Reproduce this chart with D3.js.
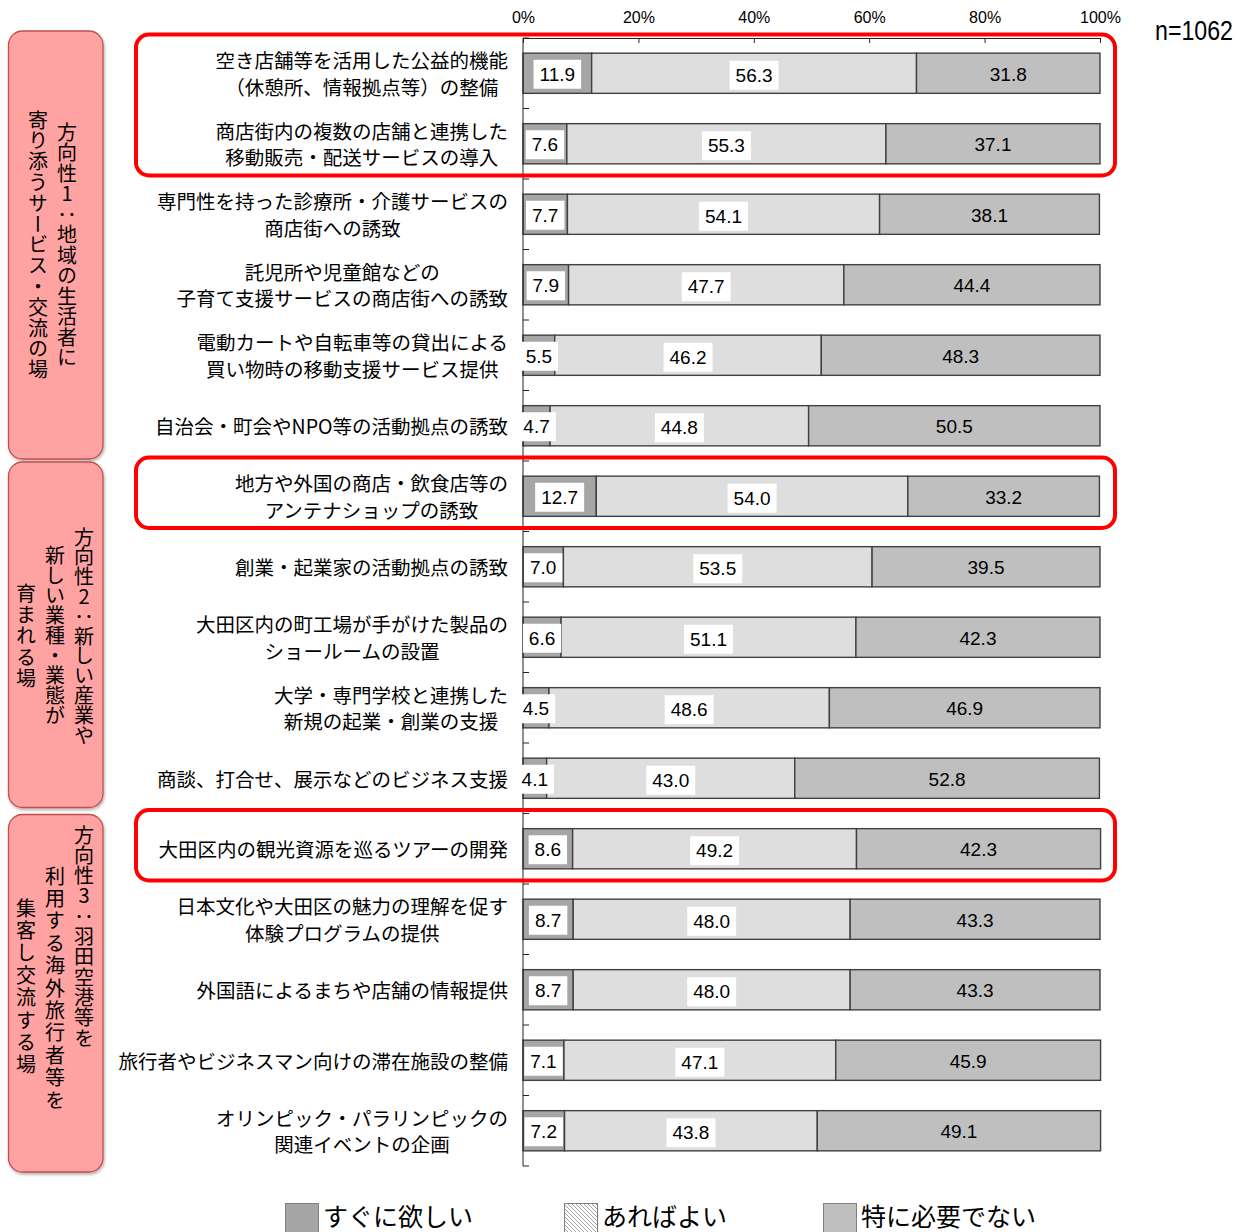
<!DOCTYPE html>
<html><head><meta charset="utf-8">
<script src="https://cdn.jsdelivr.net/npm/d3@7"></script>
<style>body{margin:0;background:#fff}svg{display:block}</style>
</head><body><svg id="c" width="1251" height="1232"></svg>
<script>
// ---------------- data ----------------
const categories = [
  "空き店舗等を活用した公益的機能\n（休憩所、情報拠点等）の整備",
  "商店街内の複数の店舗と連携した\n移動販売・配送サービスの導入",
  "専門性を持った診療所・介護サービスの\n商店街への誘致",
  "託児所や児童館などの\n子育て支援サービスの商店街への誘致",
  "電動カートや自転車等の貸出による\n買い物時の移動支援サービス提供",
  "自治会・町会やNPO等の活動拠点の誘致",
  "地方や外国の商店・飲食店等の\nアンテナショップの誘致",
  "創業・起業家の活動拠点の誘致",
  "大田区内の町工場が手がけた製品の\nショールームの設置",
  "大学・専門学校と連携した\n新規の起業・創業の支援",
  "商談、打合せ、展示などのビジネス支援",
  "大田区内の観光資源を巡るツアーの開発",
  "日本文化や大田区の魅力の理解を促す\n体験プログラムの提供",
  "外国語によるまちや店舗の情報提供",
  "旅行者やビジネスマン向けの滞在施設の整備",
  "オリンピック・パラリンピックの\n関連イベントの企画"
];
const soonValues = [11.9, 7.6, 7.7, 7.9, 5.5, 4.7, 12.7, 7.0, 6.6, 4.5, 4.1, 8.6, 8.7, 8.7, 7.1, 7.2];
const niceValues = [56.3, 55.3, 54.1, 47.7, 46.2, 44.8, 54.0, 53.5, 51.1, 48.6, 43.0, 49.2, 48.0, 48.0, 47.1, 43.8];
const notValues  = [31.8, 37.1, 38.1, 44.4, 48.3, 50.5, 33.2, 39.5, 42.3, 46.9, 52.8, 42.3, 43.3, 43.3, 45.9, 49.1];
const seriesNames = ["すぐに欲しい", "あればよい", "特に必要でない"];
const tickValues = [0, 20, 40, 60, 80, 100];
const groupLabels = [
  ["方向性1：地域の生活者に", "寄り添うサービス・交流の場"],
  ["方向性2：新しい産業や", "新しい業種・業態が", "育まれる場"],
  ["方向性3：羽田空港等を", "利用する海外旅行者等を", "集客し交流する場"]
];
const groupRows = [[0, 5], [6, 10], [11, 15]];
const highlightRows = [[0, 1], [6, 6], [11, 11]];
const sampleLabel = "n=1062";

// ---------------- layout / style ----------------
const JP = "'Noto Sans CJK JP','Noto Sans CJK SC',sans-serif";
const NUM = "'Liberation Sans',Arial,sans-serif";
const colors = ["#a6a6a6", "#dedede", "#bfbfbf"];
const groupTextLayout = [
  [{x: 67, y: 122, ls: 0.5}, {x: 38, y: 110, ls: 0.8}],
  [{x: 84, y: 527, ls: -0.2}, {x: 55, y: 545, ls: 0}, {x: 26, y: 583, ls: 1.4}],
  [{x: 84, y: 825, ls: 0.3}, {x: 55, y: 866, ls: 2.4}, {x: 26, y: 898, ls: 2.4}]
];

const svg = d3.select("#c");
const defs = svg.append("defs");
const pat = defs.append("pattern").attr("id", "hatch").attr("patternUnits", "userSpaceOnUse")
  .attr("width", 4).attr("height", 4);
pat.append("rect").attr("width", 4).attr("height", 4).attr("fill", "#fff");
pat.append("path").attr("d", "M-1,-1 L5,5 M-1,3 L1,5 M3,-1 L5,1").attr("stroke", "#8a8a8a").attr("stroke-width", 0.8);
const flt = defs.append("filter").attr("id", "sh").attr("x", "-20%").attr("y", "-5%").attr("width", "140%").attr("height", "110%");
flt.append("feDropShadow").attr("dx", 1).attr("dy", 2).attr("stdDeviation", 1.5).attr("flood-color", "#000").attr("flood-opacity", 0.3);

const x = d3.scaleLinear().domain([0, 100]).range([523, 1100]);
const y = d3.scaleBand().domain(d3.range(categories.length)).range([38, 1166])
  .paddingInner(0.43).paddingOuter(0.215);
const step = y.step(), bw = y.bandwidth();
const bandStart = i => y(i) - y.paddingInner() * step / 2;

// group boxes
groupRows.forEach((g, gi) => {
  let top = bandStart(g[0]) + 1, bot = bandStart(g[1]) + step - 2;
  if (gi === 0) top -= 8;
  if (gi === groupRows.length - 1) bot += 8;
  if (gi === 1) bot -= 4;
  svg.append("rect").attr("x", 8.5).attr("y", top).attr("width", 94.5).attr("height", bot - top)
    .attr("rx", 14).attr("fill", "#ffa2a2").attr("stroke", "#c0504d").attr("stroke-width", 1.3)
    .attr("filter", "url(#sh)");
  groupLabels[gi].forEach((t, li) => {
    const L = groupTextLayout[gi][li];
    svg.append("text").attr("x", L.x).attr("y", L.y)
      .style("writing-mode", "vertical-rl").style("text-orientation", "upright")
      .style("letter-spacing", L.ls + "px")
      .attr("font-family", JP).attr("font-size", 20).attr("fill", "#000").text(t);
  });
});

// stacked data
const table = categories.map((c, i) => ({i, s0: soonValues[i], s1: niceValues[i], s2: notValues[i]}));
const stacked = d3.stack().keys(["s0", "s1", "s2"])(table);

// bars
stacked.forEach((ser, si) => {
  svg.append("g").selectAll("rect").data(ser).join("rect")
    .attr("x", d => x(d[0])).attr("width", d => x(d[1]) - x(d[0]))
    .attr("y", d => y(d.data.i)).attr("height", bw)
    .attr("fill", colors[si]).attr("stroke", "#404040").attr("stroke-width", 1.4);
});

// axes
const gTop = svg.append("g").attr("transform", "translate(0,38)")
  .call(d3.axisTop(x).tickValues(tickValues).tickSize(-5).tickSizeOuter(0).tickFormat(d => d + "%"));
gTop.select(".domain").attr("stroke", "#222");
gTop.selectAll(".tick line").attr("stroke", "#222");
gTop.selectAll("text").attr("y", -15).attr("font-family", NUM).attr("font-size", 16).attr("fill", "#000");

svg.append("line").attr("x1", 523).attr("x2", 523).attr("y1", 38).attr("y2", 1166).attr("stroke", "#222");
svg.append("g").selectAll("line").data(d3.range(categories.length + 1)).join("line")
  .attr("x1", 523).attr("x2", 529)
  .attr("y1", i => i < categories.length ? bandStart(i) : bandStart(i - 1) + step)
  .attr("y2", i => i < categories.length ? bandStart(i) : bandStart(i - 1) + step)
  .attr("stroke", "#222");

// value labels
stacked.forEach((ser, si) => {
  ser.forEach(d => {
    const cx = (x(d[0]) + x(d[1])) / 2, cy = y(d.data.i) + bw / 2 + (si === 1 ? 2 : 1);
    const g = svg.append("g");
    const bg = g.append("rect");
    const t = g.append("text").attr("x", cx).attr("y", cy).attr("text-anchor", "middle")
      .attr("dominant-baseline", "central").attr("font-family", NUM).attr("font-size", 19)
      .attr("fill", "#000").text((d[1] - d[0]).toFixed(1));
    if (si < 2) {
      const w = t.node().getComputedTextLength() + 12;
      bg.attr("x", cx - w / 2).attr("y", cy - 14.5).attr("width", w).attr("height", 29).attr("fill", "#fff");
    } else bg.remove();
  });
});

// category labels
categories.forEach((c, i) => {
  const lines = c.split("\n");
  const cy = y(i) + bw / 2;
  const g = svg.append("g");
  const ts = lines.map((l, k) => g.append("text")
    .attr("y", lines.length === 1 ? cy : cy + (k === 0 ? -13.5 : 13))
    .attr("dominant-baseline", "central").attr("text-anchor", "middle")
    .attr("font-family", JP).attr("font-size", 19.5).attr("fill", "#000").text(l));
  const maxW = d3.max(ts, t => t.node().getComputedTextLength());
  ts.forEach(t => t.attr("x", 508 - maxW / 2));
});

// highlight boxes
highlightRows.forEach(h => {
  const top = bandStart(h[0]) - 3.5, bot = bandStart(h[1]) + step - 3.5;
  svg.append("rect").attr("x", 136).attr("y", top).attr("width", 979).attr("height", bot - top)
    .attr("rx", 13).attr("fill", "none").attr("stroke", "#ff0000").attr("stroke-width", 4);
});

// n label (narrow look)
svg.append("text").attr("x", 1155).attr("y", 31).attr("dominant-baseline", "central")
  .attr("font-family", NUM).attr("font-size", 27).attr("fill", "#000")
  .attr("textLength", 78).attr("lengthAdjust", "spacingAndGlyphs").text(sampleLabel);

// legend
const legX = [285, 564, 823];
seriesNames.forEach((n, i) => {
  svg.append("rect").attr("x", legX[i] + 0.5).attr("y", 1203.5).attr("width", 33).attr("height", 34)
    .attr("fill", i === 1 ? "url(#hatch)" : colors[i]).attr("stroke", "#7f7f7f").attr("stroke-width", 1);
  svg.append("text").attr("x", legX[i] + 38).attr("y", 1215).attr("dominant-baseline", "central")
    .attr("font-family", JP).attr("font-size", 25).attr("fill", "#000").text(n);
});
</script></body></html>
